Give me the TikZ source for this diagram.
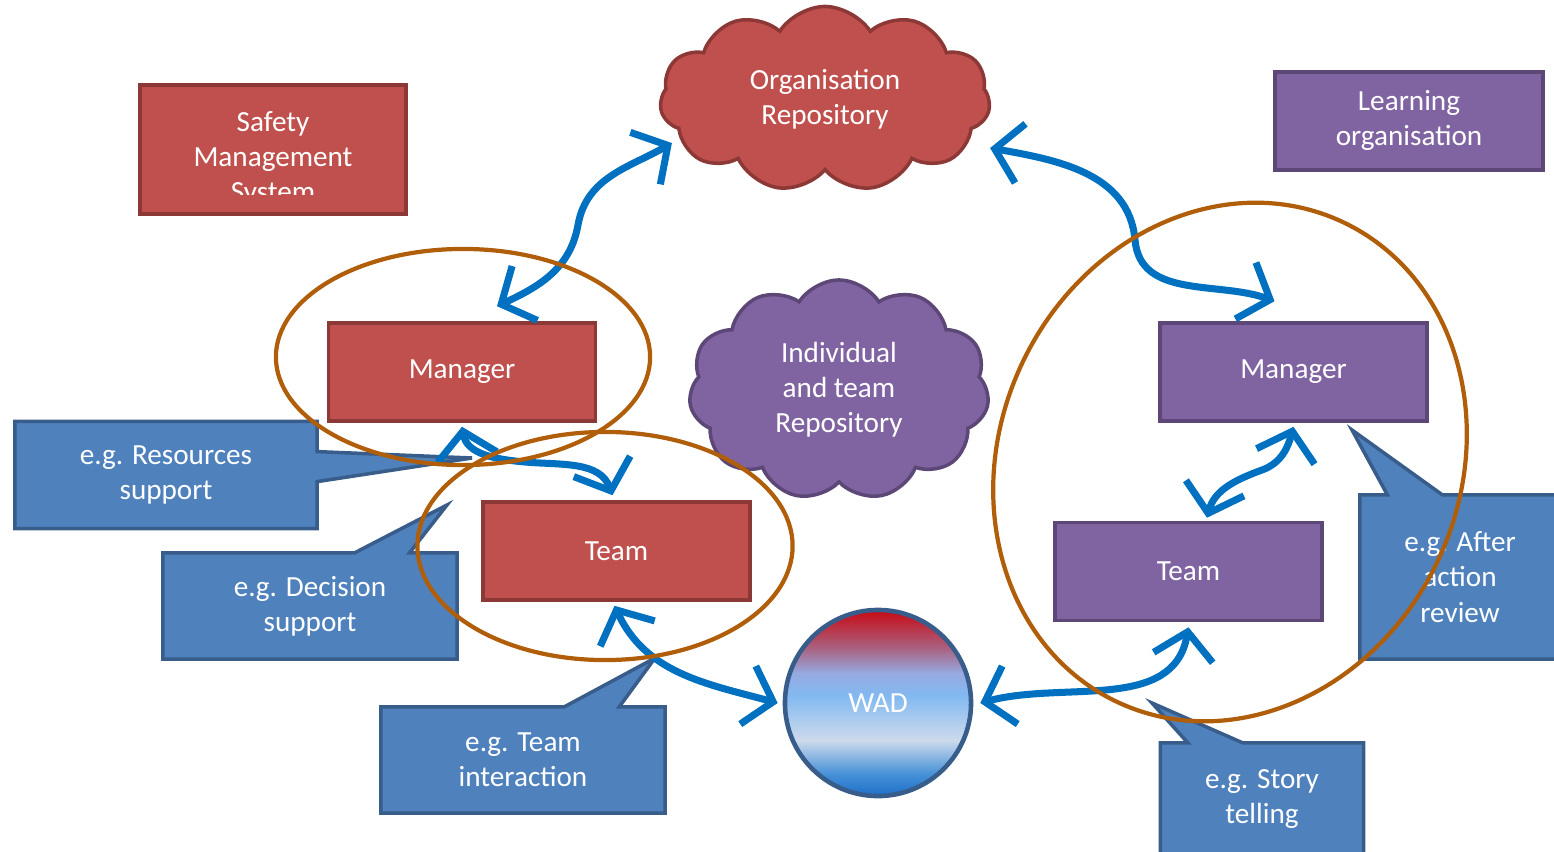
\documentclass[tikz,border=0pt]{standalone}
\usepackage{fontspec}
\setmainfont{Carlito}
\usetikzlibrary{shapes.symbols,shapes.callouts,arrows.meta}
\definecolor{boxred}{RGB}{192,80,77}
\definecolor{edgered}{RGB}{140,56,54}
\definecolor{boxpurple}{RGB}{128,100,162}
\definecolor{edgepurple}{RGB}{92,71,118}
\definecolor{tipblue}{RGB}{79,129,189}
\definecolor{edgeblue}{RGB}{56,93,138}
\definecolor{flowblue}{RGB}{0,112,192}
\definecolor{ringbrown}{RGB}{176,94,10}
\pgfdeclareverticalshading{wadshade}{100bp}{%
  color(0bp)=(rgb,255:red,30;green,110;blue,200);
  color(25bp)=(rgb,255:red,30;green,110;blue,200);
  color(31bp)=(rgb,255:red,70;green,145;blue,215);
  color(40bp)=(rgb,255:red,205;green,218;blue,236);
  color(52bp)=(rgb,255:red,130;green,185;blue,240);
  color(58bp)=(rgb,255:red,150;green,170;blue,225);
  color(65bp)=(rgb,255:red,170;green,95;blue,125);
  color(75bp)=(rgb,255:red,200;green,10;blue,20);
  color(100bp)=(rgb,255:red,200;green,10;blue,20)}
\tikzset{
  redbox/.style={rectangle, fill=boxred, draw=edgered, line width=1pt,
    minimum width=2.67cm, minimum height=0.98cm},
  purplebox/.style={rectangle, fill=boxpurple, draw=edgepurple, line width=1pt,
    minimum width=2.67cm, minimum height=0.98cm},
  tipbox/.style={rectangle callout, fill=tipblue, draw=edgeblue, line width=1pt,
    callout pointer width=0.55cm},
  repo/.style={cloud, cloud puffs=11, cloud puff arc=115, aspect=1.8,
    line width=1pt, inner sep=0pt},
  flow/.style={draw=flowblue, line width=2pt, line cap=round,
    {Straight Barb[length=2.6mm,width=6mm]}-{Straight Barb[length=2.6mm,width=6mm]}},
  ring/.style={draw=ringbrown, line width=1.2pt}
}
\begin{document}
\begin{tikzpicture}[x=0.01cm, y=-0.01cm,
    every node/.style={font=\fontsize{8.3}{10}\selectfont, text=white, align=center}]
    \useasboundingbox (0,0) rectangle (1554,851);
    % boxes
    \node[redbox, minimum width=2.66cm, minimum height=1.29cm] (safety) at (273,149.5) {};
    \begin{scope}
        \clip (145,90) rectangle (402,194);
        \node (safetytxt) at (273,159) {Safety\\Management\\System};
    \end{scope}
    \node[purplebox, minimum width=2.68cm, text depth=0.6mm] (learn) at (1409,121) {Learning\\organisation};
    \node[redbox] (mgrL) at (462,372) {Manager};
    \node[redbox] (teamL) at (616.5,551) {Team};
    \node[purplebox] (mgrR) at (1293.5,372) {Manager};
    \node[purplebox] (teamR) at (1188.5,571.5) {Team};
    \node[repo, fill=boxred, draw=edgered, minimum width=3.3cm, minimum height=1.85cm] (orgrepo) at (825,99) {Organisation\\Repository};
    \node[repo, fill=boxpurple, draw=edgepurple, minimum width=3.0cm, minimum height=2.2cm] (indrepo) at (839,390) {Individual\\and team\\Repository};
    \node[circle, minimum size=1.86cm, shading=wadshade, draw=edgeblue, line width=1.3pt] (wad) at (878,703) {WAD};
    % callouts
    \node[tipbox, minimum width=3.02cm, minimum height=1.07cm, callout pointer width=0.3cm,
          callout absolute pointer={(472,458)}] (tipres) at (166,475) {e.g. Resources\\support};
    \node[tipbox, minimum width=2.94cm, minimum height=1.06cm,
          callout absolute pointer={(447,505)}] (tipdec) at (310,606) {e.g. Decision\\support};
    \node[tipbox, minimum width=2.84cm, minimum height=1.06cm,
          callout absolute pointer={(655,658)}] (tipteam) at (523,760) {e.g. Team\\interaction};
    \node[tipbox, minimum width=2.0cm, minimum height=1.64cm,
          callout absolute pointer={(1352,430)}] (tipaar) at (1460,577) {e.g. After\\action\\review};
    \node[tipbox, minimum width=2.03cm, minimum height=1.12cm,
          callout absolute pointer={(1152,703)}] (tipstory) at (1262,799) {e.g. Story\\telling};
    % connectors
    \draw[flow] ([xshift=3.5mm,yshift=1.5mm]mgrL.north) to[out=25,in=-100] (578,225)
        to[out=80,in=-150] ([shift={(-1.53cm,-0.44cm)}]orgrepo.center);
    \draw[flow] ([shift={(1.65cm,-0.49cm)}]orgrepo.center) to[out=-10,in=95] (1135,240)
        to[out=-85,in=160] ([xshift=-0.19cm,yshift=0.2cm]mgrR.north);
    \draw[flow] ([yshift=-0.4mm]mgrL.south) to[out=-80,in=175] (525,462)
        to[out=-5,in=110] ([xshift=-0.4mm,yshift=0.5mm]teamL.north);
    \draw[flow] ([xshift=-0.2mm,yshift=-0.4mm]teamL.south) to[out=-65,in=165] ([xshift=-0.5mm]wad.west);
    \draw[flow] ([yshift=-0.4mm]mgrR.south) to[out=-105,in=20] (1262,470)
        to[out=200,in=75] ([xshift=1.85mm,yshift=0.3mm]teamR.north);
    \draw[flow] ([yshift=-0.5mm]teamR.south) to[out=-100,in=15] ([xshift=0.7mm]wad.east);
    % rings
    \draw[ring] (463,357) ellipse [x radius=1.87cm, y radius=1.08cm];
    \draw[ring] (605,546) ellipse [x radius=1.875cm, y radius=1.14cm];
    \draw[ring, rotate around={65:(1230,462)}] (1230,462) ellipse [x radius=2.65cm, y radius=2.3cm];
\end{tikzpicture}
\end{document}
